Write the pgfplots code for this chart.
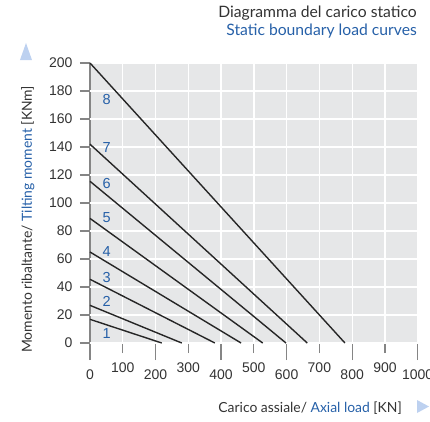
\documentclass[border=0pt]{standalone}
\usepackage{fontspec}
\setmainfont{Liberation Sans}
\newfontfamily\lab{Lato}
\usepackage{pgfplots}
\pgfplotsset{compat=1.18}
\definecolor{bg}{HTML}{E6E7E8}
\definecolor{bl}{HTML}{2660A8}
\definecolor{tx}{HTML}{333333}
\definecolor{axc}{HTML}{858585}
\definecolor{tri}{HTML}{BDD1F0}
\begin{document}
\begin{tikzpicture}
\begin{axis}[
  at={(0pt,0pt)}, anchor=origin,
  x=0.3277pt, y=1.4pt,
  xmin=0, xmax=1000, ymin=0, ymax=200,
  axis lines=left,
  axis line style={-, axc, line width=1.3pt},
  axis background/.style={fill=bg},
  xtick={0,200,...,1000},
  extra x ticks={100,300,...,900},
  ytick=\empty,
  extra y ticks={0,20,...,200},
  tick align=outside,
  major tick length=17pt,
  tick style={axc, line width=1.2pt},
  extra x tick style={major tick length=10pt, grid=major},
  extra y tick style={major tick length=10pt, grid=major},
  grid=major,
  major grid style={white, line width=1.3pt},
  tick label style={font=\fontsize{14}{16}\selectfont, text=tx},
  xticklabel style={yshift=-6pt},
  yticklabel style={xshift=-4pt},
  /pgf/number format/assume math mode=true,
  /pgf/number format/set thousands separator={},
  clip=false,
]
\addplot[black!85, line width=1.4pt] coordinates {(0,16.9) (219,0)};
\addplot[black!85, line width=1.4pt] coordinates {(0,26.9) (280,0)};
\addplot[black!85, line width=1.4pt] coordinates {(0,45.5) (381,0)};
\addplot[black!85, line width=1.4pt] coordinates {(0,65) (461,0)};
\addplot[black!85, line width=1.4pt] coordinates {(0,89) (527,0)};
\addplot[black!85, line width=1.4pt] coordinates {(0,115.5) (598,0)};
\addplot[black!85, line width=1.4pt] coordinates {(0,142) (663,0)};
\addplot[black!85, line width=1.4pt] coordinates {(0,200) (778,0)};
\begin{scope}[every node/.style={text=bl, font=\fontsize{14.5}{16}\selectfont}]
\node at (axis cs:51,174) {8};
\node at (axis cs:51,139.5) {7};
\node at (axis cs:51,113.6) {6};
\node at (axis cs:51,89.4) {5};
\node at (axis cs:51,65) {4};
\node at (axis cs:51,47) {3};
\node at (axis cs:51,29.8) {2};
\node at (axis cs:51,6.6) {1};
\end{scope}
\end{axis}
\node[anchor=base east, text=tx, font=\lab\fontsize{15.7}{18}\selectfont, inner sep=0pt] at (327pt,325.7pt) {Diagramma del carico statico};
\node[anchor=base east, text=bl, font=\lab\fontsize{15.7}{18}\selectfont, inner sep=0pt] at (327pt,308pt) {Static boundary load curves};
\node[anchor=base east, text=tx, font=\lab\fontsize{13.9}{16}\selectfont, inner sep=0pt] at (312pt,-69.3pt) {Carico assiale/ \textcolor{bl}{Axial load} [KN]};
\node[rotate=90, anchor=base west, text=tx, font=\lab\fontsize{13.9}{16}\selectfont, inner sep=0pt] at (-58pt,-10pt) {Momento ribaltante/ \textcolor{bl}{Tilting moment} [KNm]};
\fill[tri] (-64pt,300pt) -- (-70pt,283pt) -- (-58pt,283pt) -- cycle;
\fill[tri] (327pt,-57pt) -- (327pt,-70pt) -- (339pt,-63.5pt) -- cycle;
\pgfresetboundingbox
\path (-90pt,-78pt) rectangle (340pt,343pt);
\end{tikzpicture}
\end{document}
